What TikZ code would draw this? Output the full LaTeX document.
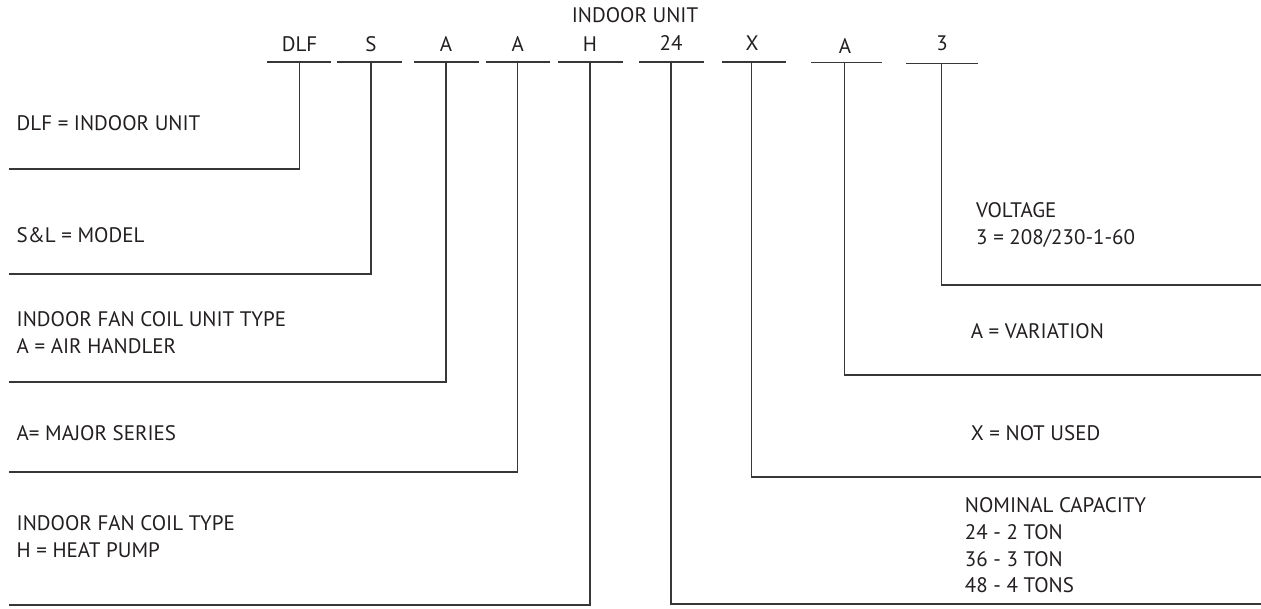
\documentclass[tikz,border=0pt]{standalone}
\usepackage{fontspec}
\setmainfont{PT Sans}
\definecolor{ink}{RGB}{35,31,32}
\definecolor{leadgray}{RGB}{55,55,55}
\begin{document}
\begin{tikzpicture}[x=1pt,y=-1pt,
    lead/.style={line width=1.2pt,draw=leadgray},
    code/.style={font=\fontsize{21}{26.7}\selectfont,text=ink,inner sep=0pt},
    desc/.style={font=\fontsize{21}{26.7}\selectfont,text=ink,inner sep=0pt,
      anchor=north west,align=left}]
    \useasboundingbox (0,0) rectangle (1261,609);
    \node[code] (title) at (635,15) {INDOOR UNIT};
    \node[code] (dlf) at (299.5,44) {DLF};
    \node[code] (s) at (371,44) {S};
    \node[code] (fan) at (446,44) {A};
    \node[code] (series) at (517.7,44) {A};
    \node[code] (heat) at (590,44) {H};
    \node[code] (cap) at (671,43) {24};
    \node[code] (notused) at (752,43) {X};
    \node[code] (var) at (845,46) {A};
    \node[code] (volt) at (942,43) {3};
    \draw[lead] (266.7,62) -- (330.7,62);
    \draw[lead] (337,62) -- (401.7,62);
    \draw[lead] (414,62) -- (478.7,62);
    \draw[lead] (485.7,62) -- (550,62);
    \draw[lead] (558.3,62) -- (622.7,62);
    \draw[lead] (639.3,62) -- (704,62);
    \draw[lead] (721.7,62) -- (786,62);
    \draw[lead] (811,62.7) -- (881.7,62.7);
    \draw[lead] (906,63.3) -- (977.7,63.3);
    \coordinate (dlf top) at (299.3,62);
    \coordinate (s top) at (371,62);
    \coordinate (fan top) at (446,62);
    \coordinate (series top) at (517.7,62);
    \coordinate (heat top) at (590,62);
    \coordinate (cap top) at (671,62);
    \coordinate (notused top) at (751.7,62);
    \coordinate (var top) at (844.3,62.7);
    \coordinate (volt top) at (941.7,63.3);
    \coordinate (dlf end) at (9,169);
    \coordinate (s end) at (9,274);
    \coordinate (fan end) at (9,382);
    \coordinate (series end) at (9,472);
    \coordinate (heat end) at (9,605);
    \coordinate (cap end) at (1262,604);
    \coordinate (notused end) at (1262,477);
    \coordinate (var end) at (1262,375);
    \coordinate (volt end) at (1262,285);
    \draw[lead] (dlf top) |- (dlf end);
    \draw[lead] (s top) |- (s end);
    \draw[lead] (fan top) |- (fan end);
    \draw[lead] (series top) |- (series end);
    \draw[lead] (heat top) |- (heat end);
    \draw[lead] (cap top) |- (cap end);
    \draw[lead] (notused top) |- (notused end);
    \draw[lead] (var top) |- (var end);
    \draw[lead] (volt top) |- (volt end);
    \node[desc] (dlf text) at (16.5,115.6) {DLF = INDOOR UNIT};
    \node[desc] (s text) at (16.5,227.6) {S\&L = MODEL};
    \node[desc] (fan text) at (16.5,311.6)
      {INDOOR FAN COIL UNIT TYPE\\A = AIR HANDLER};
    \node[desc] (series text) at (16.5,425.6) {A= MAJOR SERIES};
    \node[desc] (heat text) at (16.5,515.6)
      {INDOOR FAN COIL TYPE\\H = HEAT PUMP};
    \node[desc] (volt text) at (976,202.6) {VOLTAGE\\3 = 208/230-1-60};
    \node[desc] (var text) at (970.6,323.6) {A = VARIATION};
    \node[desc] (notused text) at (970.7,425.6) {X = NOT USED};
    \node[desc] (cap text) at (964.7,497.6)
      {NOMINAL CAPACITY\\24 - 2 TON\\36 - 3 TON\\48 - 4 TONS};
  \end{tikzpicture}
\end{document}
